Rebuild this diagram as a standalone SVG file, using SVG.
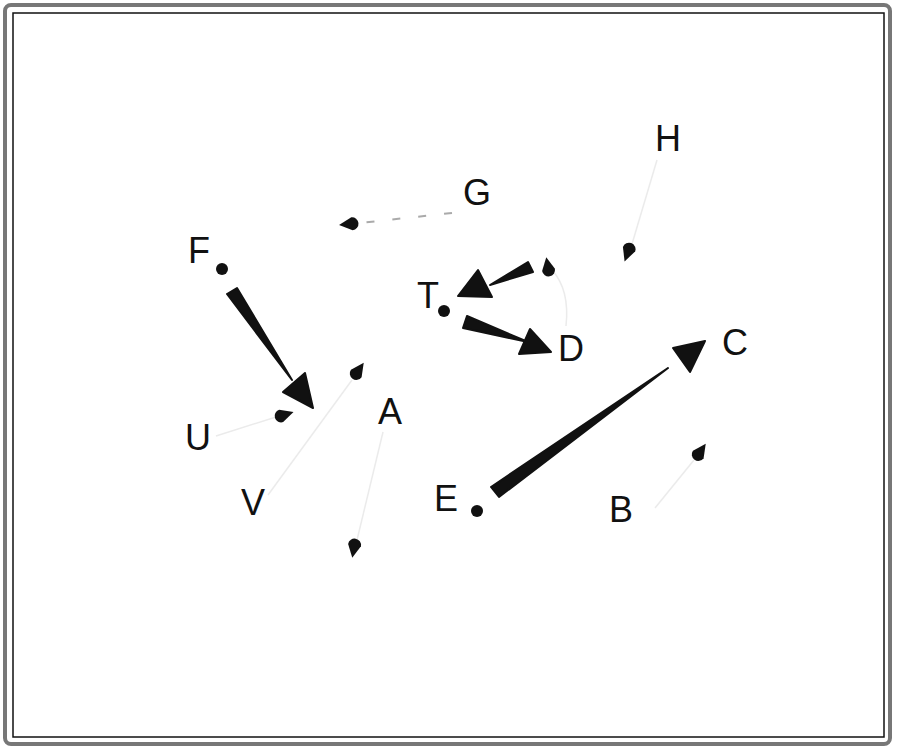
<svg xmlns="http://www.w3.org/2000/svg" xmlns:xlink="http://www.w3.org/1999/xlink" width="900" height="752" viewBox="0 0 900 752">
<style>
.lbl{font-family:"Liberation Sans",Arial,sans-serif;font-size:36px;fill:#111;text-anchor:middle}
.wedge{fill:#111;stroke:#111;stroke-width:2;stroke-linejoin:round}
.head{fill:#111;stroke:#111;stroke-width:2;stroke-linejoin:round}
.faint{fill:none;stroke:#ebebeb;stroke-width:1.5}
.dash{fill:none;stroke:#aaa;stroke-width:2;stroke-dasharray:8 18}
.dot{fill:#111}
</style>
<defs>
<path id="drop" d="M 10,0 L -3,-6.5 A 6.5,6.5 0 0 0 -3,6.5 Z" fill="#111"/>
</defs>
<rect x="0" y="0" width="900" height="752" fill="#fff"/>
<rect x="5" y="5" width="885" height="739" rx="6" fill="none" stroke="#777" stroke-width="4"/>
<rect x="13" y="13" width="871" height="724" fill="none" stroke="#111" stroke-width="1.5"/>
<g id="connectors">
<g id="edge-F-A"><polygon class="wedge" points="227,294 237,288 292,380"/><polygon class="head" points="305,373 283,392 313,408"/></g>
<g id="edge-E-C"><polygon class="wedge" points="491,487 499,497 668,368"/><polygon class="head" points="673,348 690,372 705,341"/></g>
<g id="edge-T-D"><polygon class="wedge" points="467,316 463,328 528,342"/><polygon class="head" points="530,329 519,354 551,352"/></g>
<g id="edge-D-T"><path class="faint" d="M 566,326 Q 570,290 552,270"/><use xlink:href="#drop" transform="translate(548,267) rotate(-100)"/><polygon class="wedge" points="528,262 533,272 490,285"/><polygon class="head" points="478,270 492,297 458,296"/></g>
<g id="edge-G"><path class="dash" d="M 452,213 L 360,223"/><use xlink:href="#drop" transform="translate(349,224) rotate(174)"/></g>
<g id="edge-H"><path class="faint" d="M 657,160 L 632,244"/><use xlink:href="#drop" transform="translate(628,252) rotate(110)"/></g>
<g id="edge-V"><path class="faint" d="M 268,495 L 352,380"/><use xlink:href="#drop" transform="translate(358,371) rotate(-55)"/></g>
<g id="edge-A"><path class="faint" d="M 383,432 L 357,540"/><use xlink:href="#drop" transform="translate(354,548) rotate(100)"/></g>
<g id="edge-U"><path class="faint" d="M 216,436 L 276,417"/><use xlink:href="#drop" transform="translate(284,415) rotate(-18)"/></g>
<g id="edge-B"><path class="faint" d="M 655,508 L 694,460"/><use xlink:href="#drop" transform="translate(700,452) rotate(-55)"/></g>
</g>
<g id="node-F"><circle class="dot" cx="222" cy="269" r="6"/><text class="lbl" x="199" y="263">F</text></g>
<g id="node-T"><circle class="dot" cx="444" cy="311" r="6"/><text class="lbl" x="428" y="308">T</text></g>
<g id="node-E"><circle class="dot" cx="477" cy="511" r="6"/><text class="lbl" x="446" y="511">E</text></g>
<g id="node-G"><text class="lbl" x="477" y="205">G</text></g>
<g id="node-H"><text class="lbl" x="668" y="151">H</text></g>
<g id="node-D"><text class="lbl" x="571" y="361">D</text></g>
<g id="node-C"><text class="lbl" x="735" y="355">C</text></g>
<g id="node-A"><text class="lbl" x="390" y="424">A</text></g>
<g id="node-U"><text class="lbl" x="198" y="450">U</text></g>
<g id="node-V"><text class="lbl" x="253" y="515">V</text></g>
<g id="node-B"><text class="lbl" x="621" y="522">B</text></g>
</svg>
